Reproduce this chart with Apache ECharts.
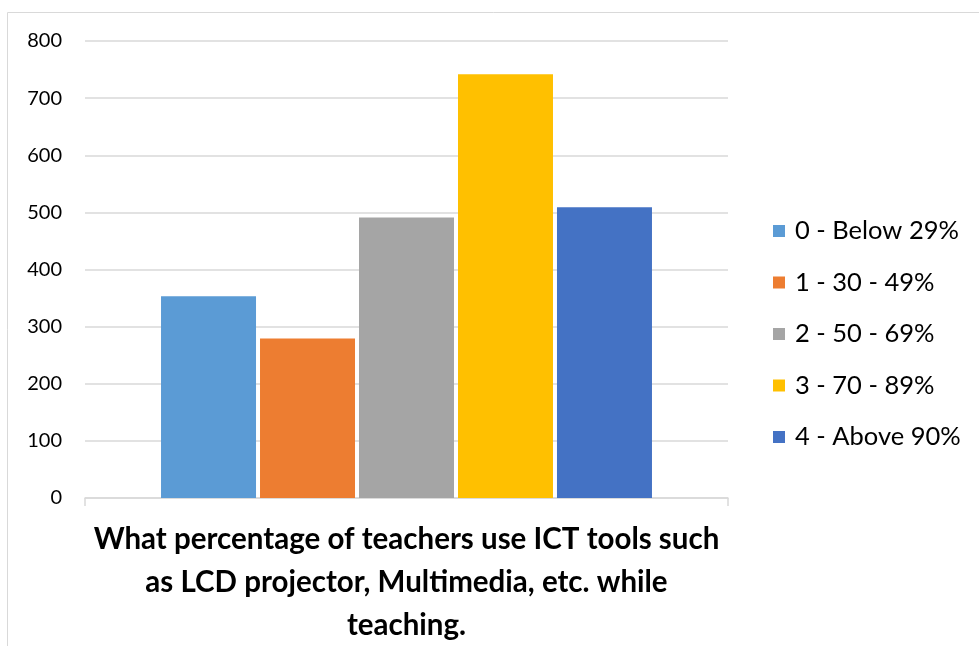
<!DOCTYPE html>
<html>
<head>
<meta charset="utf-8">
<script src="https://cdn.jsdelivr.net/npm/echarts@6/dist/echarts.min.js"></script>
<style>html,body{margin:0;padding:0;background:#fff;}#c{width:979px;height:646px;}</style>
</head>
<body>
<div id="c"></div>
<script>
const categories = ['What percentage of teachers use ICT tools such\nas LCD projector, Multimedia, etc. while\nteaching.'];
const seriesNames = ['0 - Below 29%', '1 - 30 - 49%', '2 - 50 - 69%', '3 - 70 - 89%', '4 - Above 90%'];
const seriesValues = [353, 279, 491, 742, 509];
const seriesColors = ['#5B9BD5', '#ED7D31', '#A5A5A5', '#FFC000', '#4472C4'];
const yTicks = [0, 100, 200, 300, 400, 500, 600, 700, 800];

const FONT = 'Lato';
const chart = echarts.init(document.getElementById('c'), null, {renderer: 'canvas'});
const series = seriesNames.map((n, i) => ({
  name: n,
  type: 'bar',
  data: [seriesValues[i]],
  barWidth: 95,
  barGap: '4.2%',
  itemStyle: {color: seriesColors[i]},
  emphasis: {disabled: true}
}));
chart.setOption({
  animation: false,
  textStyle: {fontFamily: FONT},
  graphic: [{
    type: 'rect',
    shape: {x: 7.5, y: 12.5, width: 1000, height: 700},
    style: {fill: 'none', stroke: '#d9d9d9', lineWidth: 1},
    silent: true
  }],
  grid: {left: 85, right: 251, top: 41, bottom: 148, containLabel: false, outerBoundsMode: 'none'},
  legend: {
    orient: 'vertical',
    left: 768,
    top: 213,
    itemWidth: 12,
    itemHeight: 12,
    itemGap: 25.5,
    icon: 'rect',
    textStyle: {fontFamily: FONT, fontSize: 25.5, lineHeight: 26, color: '#000', padding: [0, 0, 0, 5]},
    data: seriesNames
  },
  xAxis: {
    type: 'category',
    data: categories,
    boundaryGap: true,
    axisLine: {lineStyle: {color: '#d9d9d9', width: 1.5}},
    axisTick: {show: true, length: 8, lineStyle: {color: '#d9d9d9', width: 1.5}},
    axisLabel: {
      margin: 20,
      fontFamily: FONT,
      fontSize: 29.5,
      fontWeight: 'bold',
      color: '#000',
      lineHeight: 43,
      align: 'center'
    }
  },
  yAxis: {
    type: 'value',
    min: yTicks[0],
    max: yTicks[yTicks.length - 1],
    interval: 100,
    axisLine: {show: false},
    axisTick: {show: false},
    splitLine: {lineStyle: {color: '#d9d9d9', width: 1.5}},
    axisLabel: {fontFamily: FONT, fontSize: 20, color: '#000', margin: 23}
  },
  series: series
});
</script>
</body>
</html>
